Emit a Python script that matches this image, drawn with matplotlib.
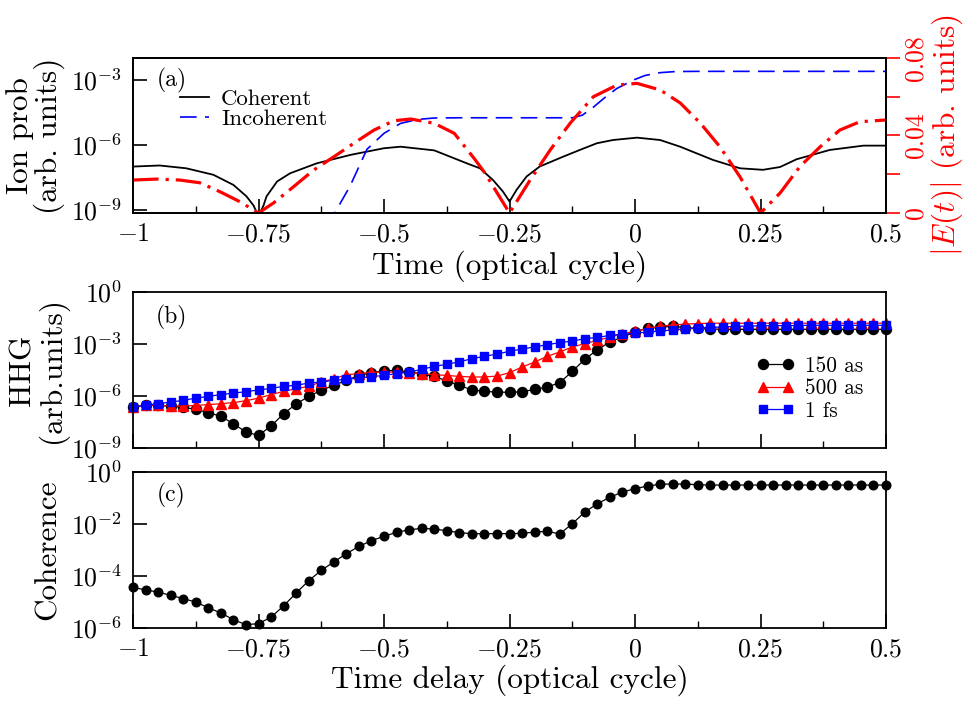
import numpy as np
import matplotlib
matplotlib.use("Agg")
import matplotlib.pyplot as plt
import matplotlib.ticker as mticker

# LaTeX-like look with the Computer Modern fonts shipped by matplotlib
plt.rcParams['font.family'] = 'cmr10'
plt.rcParams['mathtext.fontset'] = 'cm'
plt.rcParams['axes.unicode_minus'] = False
plt.rcParams['axes.formatter.use_mathtext'] = True

# ---------------- panel (a): ionization probability + field ----------------
t_coherent = [-1.0, -0.947, -0.894, -0.84, -0.80, -0.774, -0.76, -0.75, -0.74, -0.734,
              -0.713, -0.687, -0.634, -0.567, -0.50, -0.467, -0.40, -0.335, -0.309, -0.283,
              -0.263, -0.25, -0.236, -0.216, -0.19, -0.143, -0.11, -0.076, -0.044, 0.004,
              0.05, 0.09, 0.155, 0.209, 0.255, 0.289, 0.322, 0.388, 0.455, 0.5]
coherent_log10 = [-7.0, -6.95, -7.08, -7.38, -7.85, -8.38, -8.8, -9.3, -8.8, -8.38,
                  -7.69, -7.31, -6.85, -6.46, -6.15, -6.08, -6.25, -6.85, -7.08, -7.62,
                  -8.16, -8.62, -8.08, -7.46, -7.0, -6.54, -6.23, -5.92, -5.77, -5.66,
                  -5.77, -6.08, -6.69, -7.08, -7.15, -7.02, -6.66, -6.23, -6.03, -6.03]

t_incoherent = [-0.61, -0.598, -0.568, -0.534, -0.50, -0.467, -0.434, -0.40, -0.35, -0.125,
                -0.105, -0.083, -0.06, -0.036, -0.004, 0.02, 0.05, 0.08, 0.12, 0.5]
incoherent_log10 = [-9.8, -9.14, -7.92, -6.2, -5.46, -5.0, -4.82, -4.75, -4.74, -4.74,
                    -4.62, -4.25, -3.8, -3.38, -3.0, -2.78, -2.65, -2.6, -2.59, -2.59]

t_field = [-1.0, -0.953, -0.907, -0.867, -0.827, -0.787, -0.75, -0.72, -0.68, -0.64,
           -0.60, -0.56, -0.52, -0.48, -0.447, -0.40, -0.36, -0.32, -0.30, -0.275,
           -0.25, -0.209, -0.169, -0.129, -0.083, -0.036, 0.004, 0.05, 0.09, 0.13,
           0.169, 0.209, 0.25, 0.289, 0.329, 0.369, 0.408, 0.448, 0.5]
field_abs = [0.0170, 0.0175, 0.0170, 0.0156, 0.0110, 0.0058, 0.0, 0.0052, 0.0136, 0.0222,
             0.0290, 0.0360, 0.0428, 0.0476, 0.0485, 0.0463, 0.0411, 0.0280, 0.0210, 0.0105,
             0.0, 0.0170, 0.0325, 0.0464, 0.0600, 0.0660, 0.0669, 0.0635, 0.0568, 0.0464,
             0.0342, 0.0187, 0.0, 0.0103, 0.0241, 0.0342, 0.0428, 0.0471, 0.0480]

# ---------------- panels (b), (c): vs time delay ----------------
delay = [-1.0, -0.975, -0.95, -0.925, -0.9, -0.875, -0.85, -0.825, -0.8, -0.775,
         -0.75, -0.725, -0.7, -0.675, -0.65, -0.625, -0.6, -0.575, -0.55, -0.525,
         -0.5, -0.475, -0.45, -0.425, -0.4, -0.375, -0.35, -0.325, -0.3, -0.275,
         -0.25, -0.225, -0.2, -0.175, -0.15, -0.125, -0.1, -0.075, -0.05, -0.025,
         0.0, 0.025, 0.05, 0.075, 0.1, 0.125, 0.15, 0.175, 0.2, 0.225,
         0.25, 0.275, 0.3, 0.325, 0.35, 0.375, 0.4, 0.425, 0.45, 0.475, 0.5]

hhg_150as_log10 = [-6.63, -6.54, -6.54, -6.58, -6.65, -6.77, -6.96, -7.17, -7.60, -8.08,
                   -8.27, -7.73, -7.02, -6.46, -6.02, -5.67, -5.38, -5.10, -4.81, -4.65,
                   -4.55, -4.52, -4.62, -4.71, -4.87, -5.13, -5.38, -5.65, -5.73, -5.77,
                   -5.79, -5.75, -5.62, -5.48, -5.23, -4.58, -3.88, -3.33, -2.88, -2.60,
                   -2.31, -2.08, -2.02, -1.98, -2.05, -2.10, -2.13, -2.15, -2.15, -2.15,
                   -2.15, -2.15, -2.15, -2.15, -2.15, -2.15, -2.15, -2.15, -2.15, -2.15, -2.15]
hhg_500as_log10 = [-6.63, -6.54, -6.54, -6.58, -6.58, -6.54, -6.50, -6.44, -6.38, -6.27,
                   -6.12, -5.92, -5.73, -5.58, -5.44, -5.19, -5.00, -4.77, -4.71, -4.63,
                   -4.62, -4.62, -4.65, -4.71, -4.77, -4.81, -4.87, -4.90, -4.90, -4.85,
                   -4.65, -4.33, -4.04, -3.71, -3.46, -3.17, -2.98, -2.79, -2.60, -2.40,
                   -2.27, -2.10, -1.98, -1.90, -1.85, -1.82, -1.80, -1.80, -1.80, -1.80,
                   -1.80, -1.80, -1.80, -1.80, -1.80, -1.80, -1.80, -1.80, -1.80, -1.80, -1.80]
hhg_1fs_log10 = [-6.63, -6.54, -6.44, -6.35, -6.25, -6.12, -6.02, -5.92, -5.83, -5.75,
                 -5.65, -5.56, -5.44, -5.38, -5.25, -5.19, -5.10, -5.04, -4.96, -4.88,
                 -4.81, -4.71, -4.62, -4.46, -4.29, -4.17, -4.02, -3.85, -3.71, -3.58,
                 -3.42, -3.29, -3.17, -3.04, -2.92, -2.83, -2.69, -2.62, -2.50, -2.44,
                 -2.37, -2.31, -2.25, -2.19, -2.13, -2.08, -2.04, -2.02, -1.98, -1.96,
                 -1.95, -1.94, -1.94, -1.93, -1.92, -1.92, -1.92, -1.92, -1.92, -1.92, -1.92]

coherence_log10 = [-4.44, -4.53, -4.62, -4.74, -4.87, -5.00, -5.22, -5.42, -5.68, -5.87,
                   -5.83, -5.58, -5.15, -4.65, -4.18, -3.78, -3.46, -3.14, -2.86, -2.64,
                   -2.47, -2.32, -2.22, -2.17, -2.19, -2.26, -2.33, -2.37, -2.37, -2.37,
                   -2.37, -2.36, -2.31, -2.28, -2.38, -1.99, -1.54, -1.22, -0.97, -0.77,
                   -0.64, -0.54, -0.47, -0.46, -0.46, -0.49, -0.50, -0.50, -0.50, -0.50,
                   -0.50, -0.50, -0.50, -0.50, -0.50, -0.50, -0.50, -0.50, -0.50, -0.50, -0.50]

x_major = [-1, -0.75, -0.5, -0.25, 0, 0.25, 0.5]
x_minor = [-0.875, -0.625, -0.375, -0.125, 0.125, 0.375]
x_labels = [r'$-1$', r'$-0.75$', r'$-0.5$', r'$-0.25$', r'$0$', r'$0.25$', r'$0.5$']

TICK_FS = 18.5
LABEL_FS = 22.5


def style_axes(ax, show_xlabels=True):
    for sp in ax.spines.values():
        sp.set_linewidth(1.3)
    ax.set_xlim(-1, 0.5)
    ax.set_xticks(x_major)
    ax.set_xticks(x_minor, minor=True)
    ax.set_xticklabels(x_labels if show_xlabels else [])
    ax.yaxis.set_minor_locator(mticker.NullLocator())
    ax.tick_params(axis='x', which='major', direction='in', length=10, width=1.2,
                   labelsize=TICK_FS, pad=7, top=False)
    ax.tick_params(axis='x', which='minor', direction='in', length=5, width=1.0, top=False)
    ax.tick_params(axis='y', which='major', direction='in', length=10, width=1.2,
                   labelsize=TICK_FS, pad=8, right=False)


fig = plt.figure(figsize=(9.66, 7.14), dpi=100)
ax_a = fig.add_axes([0.1377, 0.7017, 0.7795, 0.2171])
ax_b = fig.add_axes([0.1377, 0.3725, 0.7795, 0.2185])
ax_c = fig.add_axes([0.1377, 0.1204, 0.7795, 0.2185])

# ---- (a)
ax_a.plot(t_coherent, 10.0 ** np.array(coherent_log10), color='black', lw=1.3, label='Coherent')
ax_a.plot(t_incoherent, 10.0 ** np.array(incoherent_log10), color='blue', lw=1.2,
          dashes=(10, 5), label='Incoherent')
ax_a.set_yscale('log')
ax_a.set_ylim(10 ** -9.15, 10 ** -1.97)
ax_a.set_yticks([1e-9, 1e-6, 1e-3])
ax_a.set_yticklabels([r'$10^{-9}$', r'$10^{-6}$', r'$10^{-3}$'])
style_axes(ax_a)
ax_a.set_xlabel('Time (optical cycle)', fontsize=LABEL_FS)
ax_a.xaxis.set_label_coords(0.5, -0.24)
ax_a.set_ylabel('Ion prob\n(arb. units)', fontsize=LABEL_FS, linespacing=1.0)
ax_a.yaxis.set_label_coords(-0.09, 0.5)
ax_a.text(0.051, 0.852, '(a)', transform=ax_a.transAxes, ha='center', va='center', fontsize=17)
ax_a.legend(loc='upper left', bbox_to_anchor=(0.062, 0.80), frameon=False, fontsize=16.5,
            handlelength=1.3, handletextpad=0.5, labelspacing=0.0, borderpad=0,
            borderaxespad=0)

ax_r = ax_a.twinx()
ax_r.plot(t_field, field_abs, color='red', lw=2.3, dashes=(8, 2.2, 1, 2.2))
ax_r.set_ylim(0, 0.08)
ax_r.set_yticks([0, 0.02, 0.04, 0.06, 0.08])
ax_r.set_yticklabels(['0', '', '0.04', '', '0.08'], rotation=90, va='center')
ax_r.tick_params(axis='y', colors='red', direction='out', length=10, width=1.2,
                 labelsize=TICK_FS, pad=3)
for sp in ax_r.spines.values():
    sp.set_linewidth(1.3)
ax_r.set_ylabel(r'$|E(t)|$ (arb. units)', color='red', fontsize=LABEL_FS)
ax_r.yaxis.set_label_coords(1.058, 0.5)

# ---- (b)
ax_b.plot(delay, 10.0 ** np.array(hhg_150as_log10), color='black', lw=0.9, marker='o',
          ms=7.2, label='150 as', clip_on=False)
ax_b.plot(delay, 10.0 ** np.array(hhg_500as_log10), color='red', lw=0.9, marker='^',
          ms=7, label='500 as', clip_on=False)
ax_b.plot(delay, 10.0 ** np.array(hhg_1fs_log10), color='blue', lw=0.9, marker='s',
          ms=6, label='1 fs', clip_on=False)
ax_b.set_yscale('log')
ax_b.set_ylim(1e-9, 1)
ax_b.set_yticks([1e-9, 1e-6, 1e-3, 1])
ax_b.set_yticklabels([r'$10^{-9}$', r'$10^{-6}$', r'$10^{-3}$', r'$10^{0}$'])
style_axes(ax_b, show_xlabels=False)
ax_b.set_ylabel('HHG\n(arb.units)', fontsize=LABEL_FS, linespacing=1.0)
ax_b.yaxis.set_label_coords(-0.086, 0.5)
ax_b.text(0.051, 0.84, '(b)', transform=ax_b.transAxes, ha='center', va='center', fontsize=17)
ax_b.legend(loc='upper left', bbox_to_anchor=(0.828, 0.59), frameon=False, fontsize=15.3,
            handlelength=1.8, handletextpad=0.5, labelspacing=0.15, borderpad=0,
            borderaxespad=0, numpoints=2)

# ---- (c)
ax_c.plot(delay, 10.0 ** np.array(coherence_log10), color='black', lw=0.9, marker='o',
          ms=6.2, clip_on=False)
ax_c.set_yscale('log')
ax_c.set_ylim(1e-6, 1)
ax_c.set_yticks([1e-6, 1e-4, 1e-2, 1])
ax_c.set_yticklabels([r'$10^{-6}$', r'$10^{-4}$', r'$10^{-2}$', r'$10^{0}$'])
style_axes(ax_c)
ax_c.set_xlabel('Time delay (optical cycle)', fontsize=LABEL_FS)
ax_c.xaxis.set_label_coords(0.5, -0.235)
ax_c.set_ylabel('Coherence', fontsize=LABEL_FS)
ax_c.yaxis.set_label_coords(-0.094, 0.5)
ax_c.text(0.051, 0.849, '(c)', transform=ax_c.transAxes, ha='center', va='center', fontsize=17)

fig.savefig('out.png', dpi=100)
